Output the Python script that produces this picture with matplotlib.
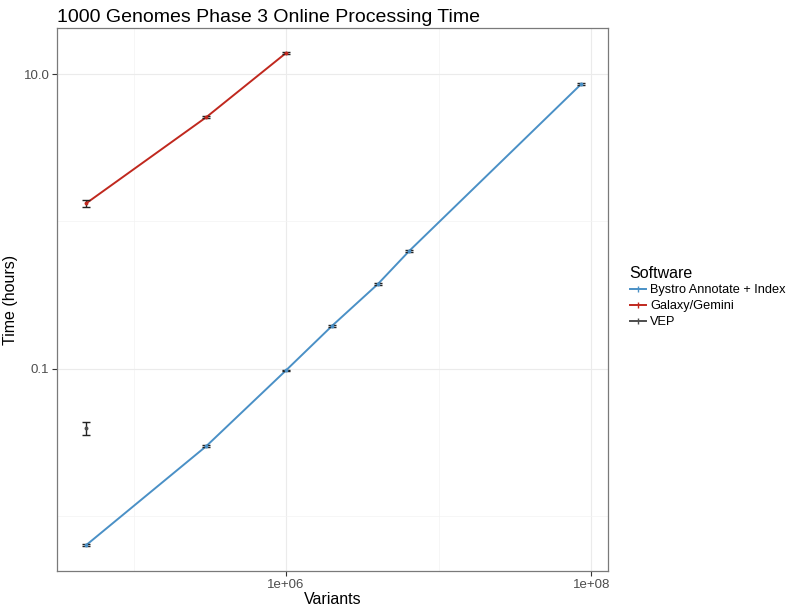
import matplotlib

matplotlib.use("Agg")
import matplotlib.pyplot as plt  # noqa: E402
from matplotlib.lines import Line2D  # noqa: E402
from matplotlib.ticker import NullFormatter  # noqa: E402

plt.rcParams["font.family"] = ["Liberation Sans", "DejaVu Sans"]

# --- data ---
SOFTWARE = ["Bystro Annotate + Index", "Galaxy/Gemini", "VEP"]
COLORS = ["#4A90C6", "#C0281E", "#4D4D4D"]

bystro_x = [4.9e4, 3e5, 1e6, 2e6, 4e6, 6.4e6, 8.6e7]
bystro_y = [0.0064, 0.030, 0.098, 0.196, 0.377, 0.63, 8.55]
bystro_err = [0.0001, 0.0004, 0.001, 0.003, 0.004, 0.006, 0.08]

galaxy_x = [4.9e4, 3e5, 1e6]
galaxy_y = [1.33, 5.1, 13.9]
galaxy_err = [0.07, 0.1, 0.15]

vep_x = [4.9e4]
vep_y = [0.0398]
vep_err = [0.004]

X_TICKS = [1e6, 1e8]
X_TICK_LABELS = ["1e+06", "1e+08"]
Y_TICKS = [0.1, 10.0]
Y_TICK_LABELS = ["0.1", "10.0"]

fig = plt.figure(figsize=(7.87, 6.10), dpi=100)
ax = fig.add_axes([57 / 787, 1 - 571 / 610, (608 - 57) / 787, (571 - 28) / 610])

series = [
    (bystro_x, bystro_y, bystro_err),
    (galaxy_x, galaxy_y, galaxy_err),
    (vep_x, vep_y, vep_err),
]
for (xs, ys, es), col in zip(series, COLORS):
    if len(xs) > 1:
        ax.plot(xs, ys, color=col, lw=1.4, zorder=3)
    ax.errorbar(xs, ys, yerr=es, fmt="none", ecolor="#222222",
                elinewidth=1.0, capsize=2.6, capthick=1.0, zorder=4)
    ax.plot(xs, ys, "o", color=col, ms=1.8, zorder=5)

ax.set_xscale("log")
ax.set_yscale("log")
ax.set_xlim(10 ** 4.498, 10 ** 8.11)
ax.set_ylim(10 ** -2.37, 10 ** 1.312)

ax.set_xticks(X_TICKS)
ax.set_xticklabels(X_TICK_LABELS)
ax.set_xticks([1e5, 1e7], minor=True)
ax.set_yticks(Y_TICKS)
ax.set_yticklabels(Y_TICK_LABELS)
ax.set_yticks([0.01, 1.0], minor=True)
ax.xaxis.set_minor_formatter(NullFormatter())
ax.yaxis.set_minor_formatter(NullFormatter())
ax.tick_params(which="major", direction="out", length=3.5, width=0.8,
               color="#333333", labelsize=9.5, labelcolor="#4D4D4D", pad=2)
ax.tick_params(which="minor", length=0)
ax.grid(which="major", color="#EBEBEB", lw=0.8)
ax.grid(which="minor", color="#F3F3F3", lw=0.5)
ax.set_axisbelow(True)
for sp in ax.spines.values():
    sp.set_color("#7A7A7A")
    sp.set_linewidth(0.9)

ax.set_xlabel("Variants", fontsize=11.5, labelpad=1)
ax.set_ylabel("Time (hours)", fontsize=11.5, labelpad=4)
ax.set_title("1000 Genomes Phase 3 Online Processing Time", loc="left",
             fontsize=14, pad=4)

handles = [Line2D([], [], color=c, lw=1.4, marker="|", ms=4, mec=c)
           for c in COLORS]
leg = fig.legend(handles, SOFTWARE, loc="upper left",
                 bbox_to_anchor=(618 / 787, 1 - 254 / 610), frameon=False,
                 title="Software", title_fontsize=11.5, fontsize=9.2,
                 handlelength=1.3, handletextpad=0.3, labelspacing=0.3,
                 alignment="left")

fig.savefig("out.png", dpi=100)
plt.close(fig)
